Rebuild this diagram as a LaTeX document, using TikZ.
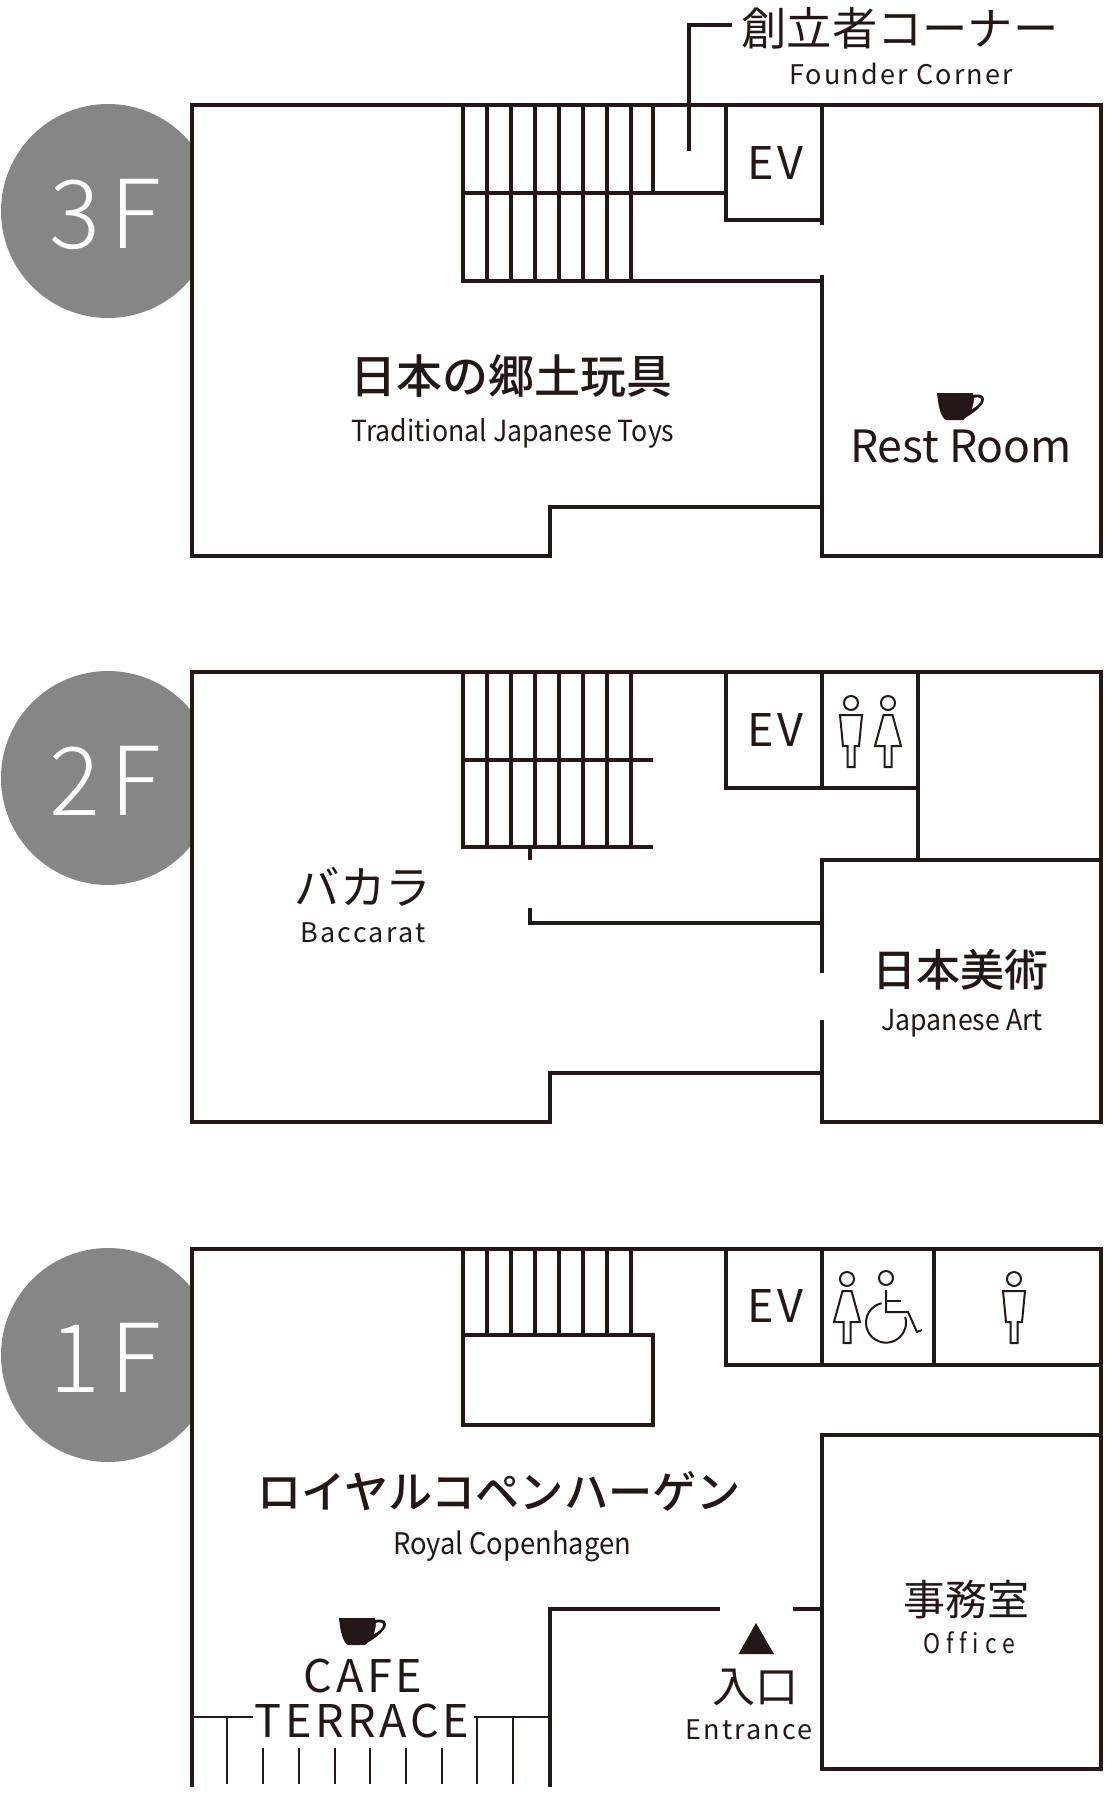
\documentclass[tikz,border=0pt]{standalone}
\usepackage{fontspec}
\setmainfont{Noto Sans CJK JP}
\newfontfamily\lightfont{Noto Sans CJK JP Light}
\newfontfamily\mediumfont{Noto Sans CJK JP Medium}
\newfontfamily\spacedfont[LetterSpace=8]{Noto Sans CJK JP}
\newfontfamily\widefont[LetterSpace=22,FakeStretch=0.85,Ligatures=NoCommon]{Noto Sans CJK JP}
\newfontfamily\signfont[LetterSpace=8]{Noto Sans CJK JP}
\newfontfamily\narrowfont[FakeStretch=0.92]{Noto Sans CJK JP}
\definecolor{ink}{HTML}{231815}
\definecolor{floorgray}{HTML}{868686}
\tikzset{
  wall/.style={draw=ink,line width=4pt,line cap=rect},
  tread/.style={draw=ink,line width=4pt},
  thin wall/.style={draw=ink,line width=2pt},
  figure line/.style={draw=ink,line width=2pt,line join=miter},
  txt/.style={text=ink,inner sep=0pt,anchor=center},
  floorname/.style={text=white,inner sep=0pt,anchor=center,font=\lightfont\fontsize{95}{95}\selectfont},
  evname/.style={txt,font=\signfont\fontsize{45}{45}\selectfont},
  jp/.style={txt,font=\fontsize{45.5}{45.5}\selectfont},
  en/.style={txt,font=\narrowfont\fontsize{29}{29}\selectfont},
  enspaced/.style={txt,font=\spacedfont\fontsize{27}{27}\selectfont},
  manicon/.pic={
    \draw[figure line] (0,-23) circle (7);
    \draw[figure line] (-11,-11) -- (11,-11) -- (8,20) -- (3.5,20) -- (3.5,41) -- (-3.5,41) -- (-3.5,20) -- (-8,20) -- cycle;
  },
  womanicon/.pic={
    \draw[figure line] (0,-23) circle (7);
    \draw[figure line] (-4.5,-11) -- (4.5,-11) -- (13,20) -- (3.5,20) -- (3.5,41) -- (-3.5,41) -- (-3.5,20) -- (-13,20) -- cycle;
  },
  cupicon/.pic={
    \fill[ink] (0,0) -- (36,0) -- (36,2) .. controls (40,1) and (47,1) .. (47,6)
      .. controls (47,12) and (38,19) .. (28,25) -- (26,27) -- (9,27)
      .. controls (3,24) and (1,10) .. (0,0) -- cycle;
    \fill[white] (37,5) .. controls (40,4) and (44,4) .. (44,7)
      .. controls (44,10) and (39,14) .. (35,16) .. controls (36,12) and (37,9) .. (37,5) -- cycle;
  }
}
\begin{document}
\begin{tikzpicture}[x=1pt,y=-1pt]
  \useasboundingbox (0,0) rectangle (1104,1800);
  % floor marks
  \fill[floorgray] (108,211) circle (107);
  \fill[floorgray] (108,778) circle (107);
  \fill[floorgray] (108,1355) circle (107);
  \fill[white] (192,105) rectangle (1101,556);
  \fill[white] (192,672) rectangle (1101,1122);
  \fill[white] (192,1249) rectangle (1101,1785);
  \node[floorname] (floor3) at (105,214) {3\kern10pt F};
  \node[floorname] (floor2) at (105,781) {2\kern10pt F};
  \node[floorname] (floor1) at (105,1358) {1\kern10pt F};

  % 3F
  \foreach \x in {463,487,511,535,559,583,607,631} {
    \draw[tread] (\x,105) -- (\x,281);
  }
  \draw[tread] (653,105) -- (653,193);
  \draw[wall] (463,193) -- (726,193);
  \draw[wall] (463,281) -- (822,281);
  \draw[wall] (192,105) -- (1101,105) -- (1101,556) -- (822,556) -- (822,277);
  \draw[wall] (822,507) -- (550,507) -- (550,556) -- (192,556) -- (192,105);
  \draw[wall] (726,105) -- (726,220) -- (822,220);
  \draw[wall,line cap=butt] (822,105) -- (822,225);
  \node[jp,font=\fontsize{45.3}{45.3}\selectfont] (founder) at (900,28) {創立者コーナー};
  \node[enspaced] (founder en) at (901,74) {Founder Corner};
  \coordinate (founder end) at (689,151);
  \draw[draw=ink,line width=3.4pt] (founder end) -- (689,25) -- (732,25);
  \node[evname] (ev3) at (775,163) {EV};
  \node[jp,font=\mediumfont\fontsize{46}{46}\selectfont] (toys) at (511,376) {日本の郷土玩具};
  \node[en] (toys en) at (513,433) {Traditional Japanese Toys};
  \pic at (937,393) {cupicon};
  \node[txt,font=\fontsize{44.5}{44.5}\selectfont] (rest) at (961,446) {Rest Room};

  % 2F
  \foreach \x in {463,487,511,535,559,583,607,631} {
    \draw[tread] (\x,672) -- (\x,847);
  }
  \draw[wall] (463,760) -- (651,760);
  \draw[wall] (463,847) -- (651,847);
  \draw[tread] (530,847) -- (530,860);
  \draw[wall] (530,910) -- (530,923) -- (822,923);
  \draw[wall] (192,672) -- (1101,672) -- (1101,1122) -- (822,1122) -- (822,1022);
  \draw[wall] (822,1073) -- (550,1073) -- (550,1122) -- (192,1122) -- (192,672);
  \draw[wall] (822,971) -- (822,860) -- (1101,860);
  \draw[tread] (918,672) -- (918,860);
  \draw[tread] (822,672) -- (822,788);
  \draw[tread] (726,672) -- (726,788);
  \draw[wall] (726,788) -- (918,788);
  \node[evname] (ev2) at (775,730) {EV};
  \pic at (851,726) {manicon};
  \pic at (888,726) {womanicon};
  \node[jp] (baccarat) at (363,887) {バカラ};
  \node[enspaced] (baccarat en) at (363,933) {Baccarat};
  \node[jp,font=\mediumfont\fontsize{44}{44}\selectfont] (art) at (960,970) {日本美術};
  \node[en] (art en) at (962,1023) {Japanese Art};

  % 1F
  \foreach \x in {463,487,511,535,559,583,607,631} {
    \draw[tread] (\x,1249) -- (\x,1335);
  }
  \draw[wall] (463,1335) rectangle (653,1425);
  \draw[wall] (192,1785) -- (192,1249) -- (1101,1249) -- (1101,1769) -- (822,1769) -- (822,1435) -- (1101,1435);
  \draw[wall] (726,1249) -- (726,1365) -- (1101,1365);
  \draw[tread] (822,1249) -- (822,1365);
  \draw[wall] (934,1249) -- (934,1365);
  \draw[wall] (718,1609) -- (550,1609) -- (550,1785);
  \draw[wall] (795,1609) -- (822,1609);
  \node[evname] (ev1) at (775,1306) {EV};
  \pic at (847,1302) {womanicon};
  \pic at (1014,1302) {manicon};
  \draw[figure line] (886,1278) circle (7);
  \draw[figure line] (886,1290) -- (886,1312) -- (908,1312) -- (917,1332) -- (922,1330);
  \draw[figure line] (886,1301) -- (901,1301);
  \draw[figure line] (881.5,1303.2) arc[start angle=257,end angle=-17,radius=20];
  \node[txt,font=\mediumfont\fontsize{44.2}{44.2}\selectfont] (copenhagen) at (499,1491) {ロイヤルコペンハーゲン};
  \node[en,font=\narrowfont\fontsize{29.7}{29.7}\selectfont] (copenhagen en) at (512,1546) {Royal Copenhagen};
  \node[jp,font=\fontsize{42}{42}\selectfont] (office) at (966,1600) {事務室};
  \node[txt,font=\widefont\fontsize{27}{27}\selectfont] (office en) at (969,1643) {Office};
  \fill[ink] (738.5,1654) -- (756,1623) -- (774,1654) -- cycle;
  \node[jp,font=\fontsize{43}{43}\selectfont] (entrance) at (755,1687) {入口};
  \node[enspaced] (entrance en) at (749,1730) {Entrance};
  \pic at (339,1618) {cupicon};
  \node[evname,font=\signfont\fontsize{45}{45}\selectfont] (cafe) at (363,1676) {CAFE};
  \node[evname,font=\signfont\fontsize{45}{45}\selectfont] (terrace) at (362,1721) {TERRACE};
  \draw[thin wall] (192,1717) -- (253,1717);
  \draw[thin wall] (474,1717) -- (550,1717);
  \foreach \x in {227,477,513} {
    \draw[thin wall] (\x,1717) -- (\x,1784);
  }
  \foreach \x in {263,299,335,370,406,442} {
    \draw[thin wall] (\x,1748) -- (\x,1784);
  }
\end{tikzpicture}
\end{document}
